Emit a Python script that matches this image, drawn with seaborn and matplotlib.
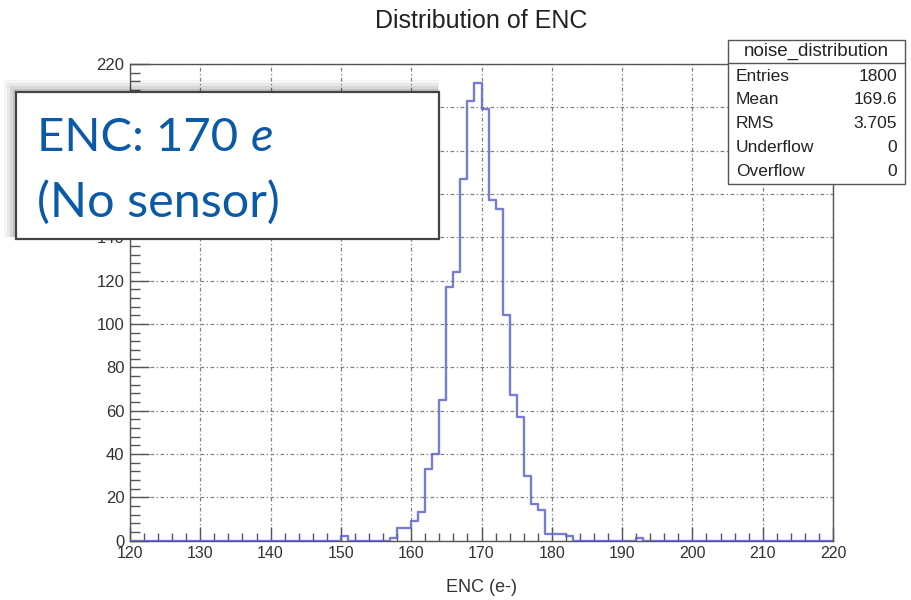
import numpy as np
import pandas as pd
import matplotlib
matplotlib.use("Agg")
import matplotlib.pyplot as plt
import seaborn as sns
from matplotlib.patches import Rectangle
from matplotlib.ticker import MultipleLocator

# ---- data ----
bin_low = [150, 157, 158, 159, 160, 161, 162, 163, 164, 165, 166, 167, 168, 169,
           170, 171, 172, 173, 174, 175, 176, 177, 178, 179, 180, 181, 182, 192]
counts = [2, 1, 6, 6, 9, 13, 33, 40, 65, 117, 124, 167, 203, 211,
          199, 157, 153, 104, 67, 57, 30, 17, 14, 3, 3, 3, 2, 1]
title = "Distribution of ENC"
xlabel = "ENC (e-)"
x_ticks = list(range(120, 221, 10))
y_ticks = list(range(0, 221, 20))
stats_name = "noise_distribution"
stats_labels = ["Entries", "Mean", "RMS", "Underflow", "Overflow"]
stats_values = ["1800", "169.6", "3.705", "0", "0"]
note_line1 = "ENC: 170"
note_italic = "e"
note_line2 = "(No sensor)"

sns.set_theme(style="white")
plt.rcParams["font.family"] = ["Liberation Sans", "DejaVu Sans"]

W, H = 912, 600
fig = plt.figure(figsize=(W / 100, H / 100), dpi=100)
fig.patch.set_facecolor("white")


def fx(x):
    return x / W


def fy(y):
    return 1 - y / H


ax_l, ax_r, ax_t, ax_b = 130, 833, 63.9, 540.6
ax = fig.add_axes([fx(ax_l), fy(ax_b), (ax_r - ax_l) / W, (ax_b - ax_t) / H])

df = pd.DataFrame({"enc": np.array(bin_low, dtype=float) + 0.5,
                   "n": np.array(counts, dtype=float)})
sns.histplot(data=df, x="enc", weights="n", bins=100, binrange=(120, 220),
             element="step", fill=False, color="#6165cb", linewidth=1.7,
             alpha=0.85, ax=ax, zorder=3)

ax.set_xlim(120, 220)
ax.set_ylim(0, 220)
ax.set_xticks(x_ticks)
ax.set_yticks(y_ticks)
ax.xaxis.set_minor_locator(MultipleLocator(2))
ax.yaxis.set_minor_locator(MultipleLocator(4))
ax.tick_params(axis="x", which="major", direction="in", length=10, width=1,
               color="#555555", labelsize=11.5, pad=4, labelcolor="#333333",
               bottom=True, top=False)
ax.tick_params(axis="x", which="minor", direction="in", length=6, width=1,
               color="#555555", bottom=True, top=False)
ax.tick_params(axis="y", which="major", direction="in", length=14, width=1,
               color="#555555", labelsize=12, pad=4, labelcolor="#333333",
               left=True, right=False)
ax.tick_params(axis="y", which="minor", direction="in", length=7, width=1,
               color="#555555", left=True, right=False)
ax.grid(True, which="major", linestyle=(0, (3, 2, 1, 2)), color="#808080",
        linewidth=0.9)
ax.set_axisbelow(True)
for s in ax.spines.values():
    s.set_color("#555555")
    s.set_linewidth(1.0)
ax.set_ylabel("")
ax.set_xlabel(xlabel, fontsize=13, color="#333333", labelpad=13)

fig.text(fx(481), fy(21), title, ha="center", va="center", fontsize=18,
         color="#222222")

# ---- stats box ----
bx0, by0, bx1, by1 = 728, 40, 905, 184
fig.add_artist(Rectangle((fx(bx0), fy(by1)), (bx1 - bx0) / W, (by1 - by0) / H,
                         transform=fig.transFigure, facecolor="white",
                         edgecolor="#555555", linewidth=1.0, zorder=5))
fig.add_artist(plt.Line2D([fx(bx0), fx(bx1)], [fy(63.3), fy(63.3)],
                          transform=fig.transFigure, color="#555555",
                          linewidth=1.0, zorder=6))
fig.text(fx((bx0 + bx1) / 2), fy(51.5), stats_name, ha="center", va="center",
         fontsize=13.5, color="#222222", zorder=7)
row_y = [76.7, 100, 123, 147, 171.5]
for lab, val, yy in zip(stats_labels, stats_values, row_y):
    fig.text(fx(736), fy(yy), lab, ha="left", va="center", fontsize=12.5,
             color="#222222", zorder=7)
    fig.text(fx(897), fy(yy), val, ha="right", va="center", fontsize=12.5,
             color="#222222", zorder=7)

# ---- overlay note box with soft shadow (up/left) ----
nx0, ny0, nx1, ny1 = 16, 92, 439, 239
for g, a in [(12, 0.04), (9, 0.05), (6, 0.07), (3, 0.09)]:
    left, top = nx0 - g, ny0 - g
    right, bottom = nx1 - 2 + g * 0.2, ny1 - 2
    fig.add_artist(Rectangle((fx(left), fy(bottom)), (right - left) / W,
                             (bottom - top) / H, transform=fig.transFigure,
                             facecolor="black", edgecolor="none", alpha=a,
                             zorder=8))
fig.add_artist(Rectangle((fx(nx0), fy(ny1)), (nx1 - nx0) / W, (ny1 - ny0) / H,
                         transform=fig.transFigure, facecolor="white",
                         edgecolor="#444444", linewidth=1.6, zorder=9))
blue = "#0b5aa8"
t1 = fig.text(fx(37), fy(151.5), note_line1, ha="left", va="baseline",
              fontsize=34, color=blue, family=["Lato", "DejaVu Sans"], zorder=10)
fig.canvas.draw()
bb = t1.get_window_extent()
fig.text((bb.x1 + 13) / W, fy(151.5), note_italic, ha="left", va="baseline",
         fontsize=34, color=blue, style="italic", family=["Lato", "DejaVu Sans"],
         zorder=10)
fig.text(fx(37), fy(216.5), note_line2, ha="left", va="baseline",
         fontsize=35, color=blue, family=["Lato", "DejaVu Sans"], zorder=10)

fig.savefig("out.png", dpi=100, facecolor="white")
